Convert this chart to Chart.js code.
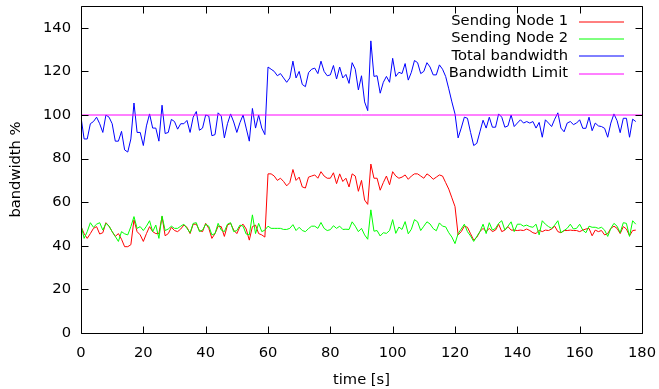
<!DOCTYPE html>
<html><head><meta charset="utf-8">
<script src="https://cdn.jsdelivr.net/npm/chart.js@4/dist/chart.umd.min.js"></script>
<style>html,body{margin:0;padding:0;background:#fff;}canvas{display:block;}</style>
</head><body>
<canvas id="c" width="659" height="389"></canvas>
<script>
const seriesNames = ['Sending Node 1', 'Sending Node 2', 'Total bandwidth', 'Bandwidth Limit'];
const seriesColors = ['#ff0000', '#00ff00', '#0000ff', '#ff00ff'];

const sendingNode1 = [
  48.8, 45.6, 43.4, 45.6, 48, 48.8, 45.4, 46, 50.6, 49,
  46.5, 44.3, 45.6, 43, 39.6, 39.6, 40.5, 51.9, 46.5, 45,
  42, 45.6, 48.8, 46.5, 45.6, 45.6, 53.4, 44.6, 45.6, 48.5,
  47, 46.5, 47.7, 49.5, 48.5, 45.6, 49.9, 49.9, 47, 46.5,
  50.3, 48, 43.4, 45.6, 49, 48.8, 44.3, 49.5, 50.3, 47.2,
  45.6, 48.8, 49.9, 47.7, 42.6, 48.8, 49.5, 45.6, 45, 44,
  73, 73, 72, 70, 71, 69.5, 67.5, 69, 75, 70,
  71.5, 67, 66.5, 71.5, 72, 72.5, 71, 74, 72, 71,
  71, 73.5, 68.5, 73, 69.5, 71, 67, 73, 72, 65,
  70, 61, 59, 77.5, 71, 71, 65.5, 69, 72, 68,
  74, 72, 71, 71.5, 72.5, 70.5, 72, 73, 73, 72,
  71, 73, 72, 70.5, 71.5, 72.5, 72, 69, 66, 62,
  58, 45, 46.5, 49, 48.5, 45.5, 42.6, 43.9, 46.5, 48,
  46.5, 48, 46.5, 47.2, 49.9, 46.5, 47.2, 48.8, 47.2, 47.2,
  47, 47.2, 47, 47.7, 47, 46, 45.6, 47.2, 46.5, 47.2,
  47, 47.7, 49, 46.5, 46, 47, 47, 47.2, 47, 47,
  46.5, 47.2, 47.7, 48, 44.6, 47.2, 46.5, 47, 45, 45.6,
  48, 49, 48, 45.6, 48.8, 47.7, 44.6, 47, 47.2
];

const sendingNode2 = [
  49.5, 43.4, 46.5, 50.6, 48.5, 49.9, 50.6, 47.2, 50.3, 49,
  46.5, 44.3, 42, 46.5, 45.5, 45, 48.8, 53.4, 48, 48.8,
  47, 49, 51.5, 46.5, 49.5, 43.4, 53.7, 47, 47.7, 49,
  48, 48, 49, 49.9, 48, 46, 50.3, 50.6, 46.5, 47.2,
  49.9, 49, 45, 45.6, 50.3, 47.2, 46.5, 49.9, 50.6, 46.5,
  47, 49.5, 49, 45.4, 45, 54.2, 45.6, 50.3, 46.5, 47.2,
  49, 48, 48, 48, 48, 47.5, 47.5, 48, 49.7, 47,
  48.5, 47, 46.5, 47.9, 49, 49, 48, 50.7, 48, 47,
  47.4, 49.2, 48, 49, 47.5, 47.6, 47.5, 51, 49, 46.5,
  48, 45, 43, 56.5, 46.7, 47, 44.5, 46, 45.7, 47,
  52, 45.7, 48.6, 47.5, 51.1, 45.5, 47.6, 52, 51, 47,
  49, 51, 50, 47.9, 46.9, 50.5, 49, 48.7, 46, 44,
  41, 45.6, 47.7, 49.9, 46.5, 44.5, 42, 44.3, 46.5, 49.9,
  45.6, 50.6, 47.2, 48, 50.3, 51.5, 47.2, 49, 51, 46.5,
  49.9, 49.9, 49, 49.5, 48.8, 48.5, 49.9, 45, 51.5, 49.9,
  48.8, 48, 49.5, 51.5, 46, 47, 48, 49.9, 47.7, 48,
  49.9, 47.2, 46, 49, 48.5, 48.5, 48, 48.5, 47.2, 44.3,
  48, 50.3, 49, 46, 50.6, 50.3, 44.3, 51.5, 49.9
];

const totalBandwidth = [
  99, 89, 89, 96, 97, 99, 96, 92, 100, 99,
  96, 88, 88, 92.5, 84, 83, 89, 105.5, 92, 92,
  86, 95, 100.5, 94, 94, 88, 104.5, 91.5, 92, 98,
  97, 93.5, 96, 96, 97.5, 92, 99, 101.6, 93, 94,
  100, 99.5, 90.5, 91, 101, 99.5, 89.5, 96, 100.5, 96.8,
  92, 96.5, 100, 94, 88, 103, 94, 100, 94, 91,
  122, 121, 120, 118, 119, 117, 115, 117, 124.7, 117,
  120, 114, 113, 119.4, 121, 121.5, 119, 124.7, 120, 118,
  118.4, 122.7, 116.5, 122, 117, 118.6, 114.5, 124, 121, 111.5,
  118, 106, 102, 134, 117.7, 118, 110, 115, 117.7, 115,
  126, 117.7, 119.6, 119, 123.6, 116, 119.6, 125, 124, 119,
  120, 124, 122, 118.4, 118.4, 123, 121, 117.7, 112, 106,
  100.5, 89.5, 94, 99, 98.5, 92, 86, 87, 92.3, 97.6,
  94, 99, 94.4, 94.4, 100.5, 99, 94.4, 95, 100, 94.7,
  96.3, 97.8, 96.3, 97, 96.3, 97, 94, 96.6, 89.8, 97.8,
  96.3, 94.7, 98.1, 101, 94, 92.3, 96.3, 97, 95.6, 96.3,
  97.8, 93.9, 93.9, 99, 92.8, 96.3, 95, 94.7, 93.9, 89.8,
  96.3, 100.5, 97.4, 91.9, 98.5, 98.5, 89.8, 98.1, 97
];

const bandwidthLimit = 100;
const limitSpan = [0, 180];
const xTicks = [0, 20, 40, 60, 80, 100, 120, 140, 160, 180];
const yTicks = [0, 20, 40, 60, 80, 100, 120, 140];
const xLabel = 'time [s]';
const yLabel = 'bandwidth %';

const FONT = 'DejaVu Sans';
const FSIZE = 14.7;
const timeSec = sendingNode1.map((_, i) => i); // one sample per second
const toXY = arr => arr.map((v, i) => ({x: timeSec[i], y: v}));

const framePlugin = {
  id: 'frame',
  afterDraw(chart) {
    const {ctx, chartArea: a, scales: {x, y}} = chart;
    ctx.save();
    ctx.strokeStyle = '#000';
    ctx.lineWidth = 1;
    const L = Math.round(a.left) + 0.5, R = Math.round(a.right) + 0.5;
    const T = Math.round(a.top) + 0.5, B = Math.round(a.bottom) + 0.5;
    ctx.beginPath();
    ctx.rect(L, T, R - L, B - T);
    const tl = 7;
    xTicks.forEach(v => {
      const px = Math.round(x.getPixelForValue(v)) + 0.5;
      ctx.moveTo(px, B); ctx.lineTo(px, B - tl);
      ctx.moveTo(px, T); ctx.lineTo(px, T + tl);
    });
    yTicks.forEach(v => {
      const py = Math.round(y.getPixelForValue(v)) + 0.5;
      ctx.moveTo(L, py); ctx.lineTo(L + tl, py);
      ctx.moveTo(R, py); ctx.lineTo(R - tl, py);
    });
    ctx.stroke();

    // key (legend), gnuplot style: right-aligned text, sample line on the right
    ctx.font = FSIZE + 'px "' + FONT + '"';
    ctx.textAlign = 'right';
    ctx.textBaseline = 'middle';
    chart.data.datasets.forEach((ds, i) => {
      const ry = 21.7 + i * 17.3;
      ctx.fillStyle = '#000';
      ctx.fillText(ds.label, 568, ry - 0.5);
      ctx.beginPath();
      ctx.strokeStyle = seriesColors[i];
      ctx.lineWidth = 1;
      ctx.moveTo(579, Math.round(ry));
      ctx.lineTo(624, Math.round(ry));
      ctx.stroke();
    });
    ctx.restore();
  }
};

const lineDs = (label, data, color, order) => ({
  label, data, borderColor: color, backgroundColor: color,
  borderWidth: 1, pointRadius: 0, tension: 0, fill: false, order
});

new Chart(document.getElementById('c'), {
  type: 'line',
  data: {
    datasets: [
      lineDs(seriesNames[0], toXY(sendingNode1), seriesColors[0], 3),
      lineDs(seriesNames[1], toXY(sendingNode2), seriesColors[1], 2),
      lineDs(seriesNames[2], toXY(totalBandwidth), seriesColors[2], 1),
      lineDs(seriesNames[3], limitSpan.map(t => ({x: t, y: bandwidthLimit})), seriesColors[3], 0)
    ]
  },
  options: {
    responsive: false,
    animation: false,
    devicePixelRatio: 1,
    layout: {padding: {left: 0, right: 17, top: 6, bottom: 0}},
    plugins: {legend: {display: false}, tooltip: {enabled: false}},
    scales: {
      x: {
        type: 'linear', min: 0, max: 180,
        grid: {display: false, drawTicks: false},
        border: {display: false},
        afterBuildTicks: s => { s.ticks = xTicks.map(v => ({value: v})); },
        afterFit: s => { s.height = 56; s.paddingLeft = 0; s.paddingRight = 0; },
        ticks: {color: '#000', padding: 11, maxRotation: 0, font: {family: FONT, size: FSIZE}},
        title: {display: true, text: xLabel, color: '#000', padding: {top: 5.5, bottom: 0}, font: {family: FONT, size: FSIZE}}
      },
      y: {
        type: 'linear', min: 0, max: 150,
        grid: {display: false, drawTicks: false},
        border: {display: false},
        afterBuildTicks: s => { s.ticks = yTicks.map(v => ({value: v})); },
        afterFit: s => { s.width = 81; s.paddingTop = 0; s.paddingBottom = 0; },
        ticks: {color: '#000', padding: 10, font: {family: FONT, size: FSIZE}},
        title: {display: true, text: yLabel, color: '#000', padding: {top: 7, bottom: 0}, font: {family: FONT, size: FSIZE}}
      }
    }
  },
  plugins: [framePlugin]
});
</script>
</body></html>
